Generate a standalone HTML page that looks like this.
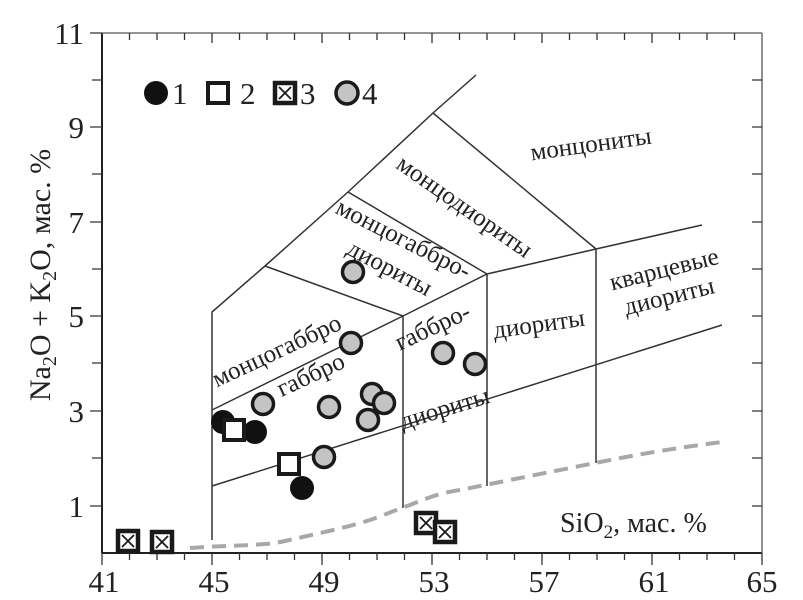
<!DOCTYPE html>
<html><head><meta charset="utf-8"><style>
html,body{margin:0;padding:0;background:#fff;}
svg, svg text{font-family:"Liberation Serif","DejaVu Serif",serif;}
svg{display:block;}
</style></head><body>
<svg width="803" height="600" viewBox="0 0 803 600" xmlns="http://www.w3.org/2000/svg" font-family="Liberation Serif, DejaVu Serif, serif">
<g stroke="#222" fill="none">
<line x1="102" y1="33" x2="102" y2="553" stroke-width="2"/>
<line x1="102" y1="553" x2="762" y2="553" stroke-width="2"/>
<line x1="102" y1="33" x2="762" y2="33" stroke-width="1.3" stroke="#555"/>
<line x1="762" y1="33" x2="762" y2="553" stroke-width="1.3" stroke="#555"/>
</g>
<g stroke="#333" stroke-width="1.3">
<path d="M102 553v12M129.5 553v7M157 553v7M184.5 553v7M212 553v12M239.5 553v7M267 553v7M294.5 553v7M322 553v12M349.5 553v7M377 553v7M404.5 553v7M432 553v12M459.5 553v7M487 553v7M514.5 553v7M542 553v12M569.5 553v7M597 553v7M624.5 553v7M652 553v12M679.5 553v7M707 553v7M734.5 553v7M762 553v12"/>
<path d="M129.5 33v7M157 33v7M184.5 33v7M212 33v10M239.5 33v7M267 33v7M294.5 33v7M322 33v10M349.5 33v7M377 33v7M404.5 33v7M432 33v10M459.5 33v7M487 33v7M514.5 33v7M542 33v10M569.5 33v7M597 33v7M624.5 33v7M652 33v10M679.5 33v7M707 33v7M734.5 33v7"/>
<path d="M90 33h12M92 80h10M90 127h12M92 174h10M90 222h12M92 269h10M90 316h12M92 363h10M90 411h12M92 458h10M90 506h12"/>
<path d="M762 80h-10M762 127h-10M762 174h-10M762 222h-10M762 269h-10M762 316h-10M762 363h-10M762 411h-10M762 458h-10M762 506h-10"/>
</g>
<g font-size="31" fill="#222" text-anchor="middle" font-family="Liberation Serif, DejaVu Serif, serif">
<text x="104" y="592">41</text><text x="214" y="592">45</text><text x="324" y="592">49</text><text x="434" y="592">53</text><text x="544" y="592">57</text><text x="654" y="592">61</text><text x="762" y="592">65</text>
</g>
<g font-size="31" fill="#222" text-anchor="end" font-family="Liberation Serif, DejaVu Serif, serif">
<text x="84" y="44">11</text><text x="84" y="138">9</text><text x="84" y="233">7</text><text x="84" y="327">5</text><text x="84" y="422">3</text><text x="84" y="517">1</text>
</g>
<text transform="translate(50,275) rotate(-90)" font-size="30" fill="#222" text-anchor="middle" font-family="Liberation Serif, DejaVu Serif, serif">Na<tspan font-size="20" dy="6">2</tspan><tspan dy="-6">O + K</tspan><tspan font-size="20" dy="6">2</tspan><tspan dy="-6">O, мас. %</tspan></text>
<text x="560" y="532" font-size="28" fill="#222" font-family="Liberation Serif, DejaVu Serif, serif">SiO<tspan font-size="19" dy="6">2</tspan><tspan dy="-6">, мас. %</tspan></text>
<g stroke="#333" stroke-width="1.5" fill="none">
<polyline points="212,540 212,312 265,266 348,192 433,113 476,75"/>
<line x1="265" y1="266" x2="403" y2="316"/>
<line x1="348" y1="192" x2="487" y2="274"/>
<line x1="433" y1="113" x2="596" y2="249"/>
<polyline points="212,410 403,316 487,274 596,249 702,225"/>
<line x1="403" y1="316" x2="403" y2="508"/>
<line x1="487" y1="274" x2="487" y2="486"/>
<line x1="596" y1="249" x2="596" y2="463"/>
<line x1="212" y1="486" x2="722" y2="325"/>
</g>
<path d="M190,548 C230,545 265,546 285,541 C320,533 345,528 370,520 C385,515 395,510 410,505 C430,497 440,493 460,490 C520,478 560,470 600,462 C650,452 690,446 722,442" stroke="#a8a8a8" stroke-width="4" stroke-dasharray="14,8" fill="none"/>
<g font-size="25" fill="#222" text-anchor="middle" font-family="Liberation Serif, DejaVu Serif, serif">
<text transform="translate(592,152) rotate(-8)">монцониты</text>
<text transform="translate(460,213) rotate(35)">монцодиориты</text>
<text transform="translate(400,246) rotate(27)">монцогаббро-</text>
<text transform="translate(386,275) rotate(28)">диориты</text>
<text transform="translate(280,358) rotate(-25)">монцогаббро</text>
<text transform="translate(314,382) rotate(-25)">габбро</text>
<text transform="translate(436,334) rotate(-25)">габбро-</text>
<text transform="translate(447,416) rotate(-17)">диориты</text>
<text transform="translate(540,332) rotate(-8)">диориты</text>
<text transform="translate(666,277) rotate(-14)">кварцевые</text>
<text transform="translate(671,304) rotate(-14)">диориты</text>
</g>
<g fill="#c4c4c4" stroke="#1a1a1a" stroke-width="3.5">
<circle cx="353" cy="272" r="10.5"/>
<circle cx="351" cy="343" r="10.5"/>
<circle cx="443" cy="353" r="10.5"/>
<circle cx="475" cy="364" r="10.5"/>
<circle cx="263" cy="404" r="10.5"/>
<circle cx="329" cy="407" r="10.5"/>
<circle cx="372" cy="394" r="10.5"/>
<circle cx="368" cy="420" r="10.5"/>
<circle cx="384" cy="403" r="10.5"/>
<circle cx="324" cy="457" r="10.5"/>
</g>
<g fill="#111">
<circle cx="223" cy="422" r="12"/>
<circle cx="255" cy="432" r="12"/>
<circle cx="302" cy="488" r="12"/>
</g>
<g fill="#fff" stroke="#1a1a1a" stroke-width="4">
<rect x="224" y="420" width="20" height="20"/>
<rect x="279" y="454" width="20" height="20"/>
</g>
<g fill="#fff" stroke="#1a1a1a">
<g transform="translate(128,541)"><rect x="-10" y="-10" width="20" height="20" stroke-width="4.5"/><path d="M-6,-6L6,6M6,-6L-6,6" stroke-width="1.8"/></g>
<g transform="translate(162,542)"><rect x="-10" y="-10" width="20" height="20" stroke-width="4.5"/><path d="M-6,-6L6,6M6,-6L-6,6" stroke-width="1.8"/></g>
<g transform="translate(426,523)"><rect x="-10" y="-10" width="20" height="20" stroke-width="4.5"/><path d="M-6,-6L6,6M6,-6L-6,6" stroke-width="1.8"/></g>
<g transform="translate(445,532)"><rect x="-10" y="-10" width="20" height="20" stroke-width="4.5"/><path d="M-6,-6L6,6M6,-6L-6,6" stroke-width="1.8"/></g>
</g>
<circle cx="156" cy="93" r="12" fill="#111"/>
<text x="172" y="104" font-size="31" fill="#222" font-family="Liberation Serif, DejaVu Serif, serif">1</text>
<rect x="208" y="83" width="20" height="20" fill="#fff" stroke="#1a1a1a" stroke-width="4"/>
<text x="240" y="104" font-size="31" fill="#222" font-family="Liberation Serif, DejaVu Serif, serif">2</text>
<g transform="translate(285,93)"><rect x="-10" y="-10" width="20" height="20" fill="#fff" stroke="#1a1a1a" stroke-width="4.5"/><path d="M-6,-6L6,6M6,-6L-6,6" stroke="#1a1a1a" stroke-width="1.8"/></g>
<text x="300" y="104" font-size="31" fill="#222" font-family="Liberation Serif, DejaVu Serif, serif">3</text>
<circle cx="347" cy="93" r="11" fill="#c4c4c4" stroke="#1a1a1a" stroke-width="3.5"/>
<text x="362" y="104" font-size="31" fill="#222" font-family="Liberation Serif, DejaVu Serif, serif">4</text>
</svg>
</body></html>
